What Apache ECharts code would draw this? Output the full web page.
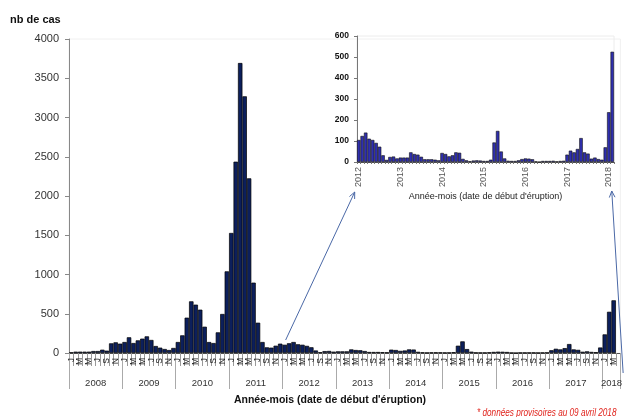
<!DOCTYPE html>
<html>
<head>
<meta charset="utf-8">
<script src="https://cdn.jsdelivr.net/npm/echarts@6/dist/echarts.min.js"></script>
<style>
  html, body { margin: 0; padding: 0; background: #fff; }
  #chart { width: 625px; height: 417px; }
</style>
</head>
<body>
<div id="chart"></div>
<script>
// Cas de rougeole par mois (date de début d'éruption), janvier 2008 - avril 2018
const monthLetters = ['J', 'F', 'M', 'A', 'M', 'J', 'J', 'A', 'S', 'O', 'N', 'D'];
const years = [2008, 2009, 2010, 2011, 2012, 2013, 2014, 2015, 2016, 2017, 2018];

const cases2008 = [8, 17, 17, 17, 17, 25, 25, 42, 30, 123, 136, 119];
const cases2009 = [140, 200, 127, 161, 183, 212, 166, 89, 68, 51, 38, 64];
const cases2010 = [140, 225, 450, 658, 616, 552, 335, 140, 127, 263, 497, 1040];
const cases2011 = [1529, 2437, 3694, 3270, 2225, 896, 386, 140, 72, 68, 93, 119];
const cases2012 = [105, 124, 140, 111, 105, 91, 73, 32, 10, 24, 26, 17];
const cases2013 = [21, 21, 21, 46, 38, 35, 25, 13, 13, 13, 11, 8];
const cases2014 = [43, 38, 27, 32, 46, 44, 15, 8, 4, 7, 8, 7];
const cases2015 = [5, 5, 11, 93, 148, 50, 17, 6, 5, 5, 8, 14];
const cases2016 = [17, 16, 13, 3, 0, 5, 5, 5, 6, 3, 5, 6];
const cases2017 = [35, 54, 46, 62, 114, 46, 40, 16, 21, 14, 11, 70];
const cases2018 = [237, 525, 671, null];

// Zoom window: janvier 2012 -> fevrier 2018
const zoomStart = '2012-01';
const zoomEnd = '2018-02';

const yearlyCases = [cases2008, cases2009, cases2010, cases2011, cases2012, cases2013,
                     cases2014, cases2015, cases2016, cases2017, cases2018];

const months = [];
const cases = [];
yearlyCases.forEach((arr, yi) => {
  arr.forEach((v, mi) => {
    months.push(years[yi] + '-' + String(mi + 1).padStart(2, '0'));
    cases.push(v);
  });
});

const zi0 = months.indexOf(zoomStart);
const zi1 = months.indexOf(zoomEnd);
const zoomMonths = months.slice(zi0, zi1 + 1);
const zoomCases = cases.slice(zi0, zi1 + 1);

// year label sits in the middle of each year's span of months
const yearLabelIdx = new Set();
years.forEach((y) => {
  const first = months.findIndex(m => m.startsWith(String(y)));
  const count = months.filter(m => m.startsWith(String(y))).length;
  yearLabelIdx.add(first + Math.floor(count / 2));
});

const FONT = "'Liberation Sans', Arial, sans-serif";
const mainBand = 555 / months.length;

const chart = echarts.init(document.getElementById('chart'), null, { renderer: 'canvas' });

chart.setOption({
  animation: false,
  textStyle: { fontFamily: FONT },
  grid: [
    { left: 69, top: 39, right: 1, bottom: 64, show: true, borderColor: '#f0f0f0', borderWidth: 1 },
    { left: 357, top: 36, right: 11, bottom: 255, show: true, borderColor: '#ececec', borderWidth: 1 }
  ],
  xAxis: [
    {
      gridIndex: 0, type: 'category', data: months, boundaryGap: true,
      axisLine: { show: true, lineStyle: { color: '#555', width: 1 } },
      axisTick: { show: true, interval: 0, length: 13, lineStyle: { color: '#999' } },
      axisLabel: {
        interval: 1, rotate: 90, fontSize: 8.5, margin: 5, color: '#222',
        formatter: v => monthLetters[parseInt(v.slice(5), 10) - 1]
      }
    },
    {
      gridIndex: 0, type: 'category', data: months, boundaryGap: true, position: 'bottom',
      axisLine: { show: false },
      axisTick: { show: true, interval: i => i % 12 === 0, length: 36, lineStyle: { color: '#aaa' } },
      axisLabel: {
        interval: i => yearLabelIdx.has(i), fontSize: 9.5, margin: 25, color: '#333',
        padding: [0, mainBand, 0, 0],
        formatter: v => v.slice(0, 4)
      }
    },
    {
      gridIndex: 1, type: 'category', data: zoomMonths, boundaryGap: true,
      axisLine: { show: true, lineStyle: { color: '#555' } },
      axisTick: { show: true, interval: 0, length: 2, lineStyle: { color: '#777' } },
      axisLabel: {
        interval: i => zoomMonths[i].endsWith('-01'), rotate: 90, fontSize: 9, margin: 5, color: '#555',
        formatter: v => v.slice(0, 4)
      },
      name: "Année-mois (date de début d'éruption)",
      nameLocation: 'middle', nameGap: 30,
      nameTextStyle: { fontSize: 9, color: '#222' }
    }
  ],
  yAxis: [
    {
      gridIndex: 0, type: 'value', min: 0, max: 4000, interval: 500,
      axisLine: { show: true, lineStyle: { color: '#888' } },
      axisTick: { show: true, length: 4, lineStyle: { color: '#888' } },
      axisLabel: { fontSize: 11, color: '#333', margin: 10, formatter: v => String(v) },
      splitLine: { show: false }
    },
    {
      gridIndex: 1, type: 'value', min: 0, max: 600, interval: 100,
      axisLine: { show: true, lineStyle: { color: '#777' } },
      axisTick: { show: true, length: 3, lineStyle: { color: '#777' } },
      axisLabel: { fontSize: 8.5, fontWeight: 'bold', color: '#111', margin: 8, formatter: v => String(v) },
      splitLine: { show: false }
    }
  ],
  series: [
    {
      type: 'bar', xAxisIndex: 0, yAxisIndex: 0, data: cases,
      barCategoryGap: '0%',
      itemStyle: { color: '#0c1f5c', borderColor: '#000', borderWidth: 0.7 }
    },
    {
      type: 'bar', xAxisIndex: 2, yAxisIndex: 1, data: zoomCases,
      barCategoryGap: '0%',
      itemStyle: { color: '#2f2fae', borderColor: '#111', borderWidth: 0.6 }
    }
  ]
});

// Arrows linking the main chart to the zoomed panel
function arrow(x1, y1, x2, y2, color) {
  const dx = x2 - x1, dy = y2 - y1;
  const len = Math.hypot(dx, dy);
  const ux = dx / len, uy = dy / len;
  const head = 7, ang = 0.42;
  const c = Math.cos(ang), s = Math.sin(ang);
  const lx = x2 - head * (ux * c - uy * s), ly = y2 - head * (uy * c + ux * s);
  const rx = x2 - head * (ux * c + uy * s), ry = y2 - head * (uy * c - ux * s);
  return [
    { type: 'line', shape: { x1, y1, x2, y2 }, style: { stroke: color, lineWidth: 1 }, silent: true },
    { type: 'polyline', shape: { points: [[lx, ly], [x2, y2], [rx, ry]] }, style: { stroke: color, lineWidth: 1, fill: null }, silent: true }
  ];
}

const mainFinder = { xAxisIndex: 0, yAxisIndex: 0 };
const zoomFinder = { xAxisIndex: 2, yAxisIndex: 1 };
const a1s = chart.convertToPixel(mainFinder, [zi0, 0]);
const a1e = chart.convertToPixel(zoomFinder, [0, 0]);
const a2s = chart.convertToPixel(mainFinder, [months.length - 1, 0]);
const a2e = chart.convertToPixel(zoomFinder, [zoomMonths.length - 1, 0]);
const arrowColor = '#4a68a6';

chart.setOption({
  graphic: [
    {
      type: 'text', x: 10, y: 20,
      style: { text: 'nb de cas', font: "bold 11px " + FONT, fill: '#111', verticalAlign: 'middle' }
    },
    {
      type: 'text', x: 330, y: 400,
      style: { text: "Année-mois (date de début d'éruption)", font: "bold 10.5px " + FONT, fill: '#111', align: 'center', verticalAlign: 'middle' }
    },
    {
      type: 'text', x: 477, y: 413, scaleX: 0.82,
      style: { text: '* données provisoires au 09 avril 2018', font: "italic 10px " + FONT, fill: '#e0231c', verticalAlign: 'middle' }
    },
    ...arrow(a1s[0] + 1, a1s[1] - 13, a1e[0] - 4, a1e[1] + 30, arrowColor),
    ...arrow(a2s[0] + 5, a2s[1] + 20, a2e[0] - 0.5, a2e[1] + 29, arrowColor)
  ]
});
</script>
</body>
</html>
